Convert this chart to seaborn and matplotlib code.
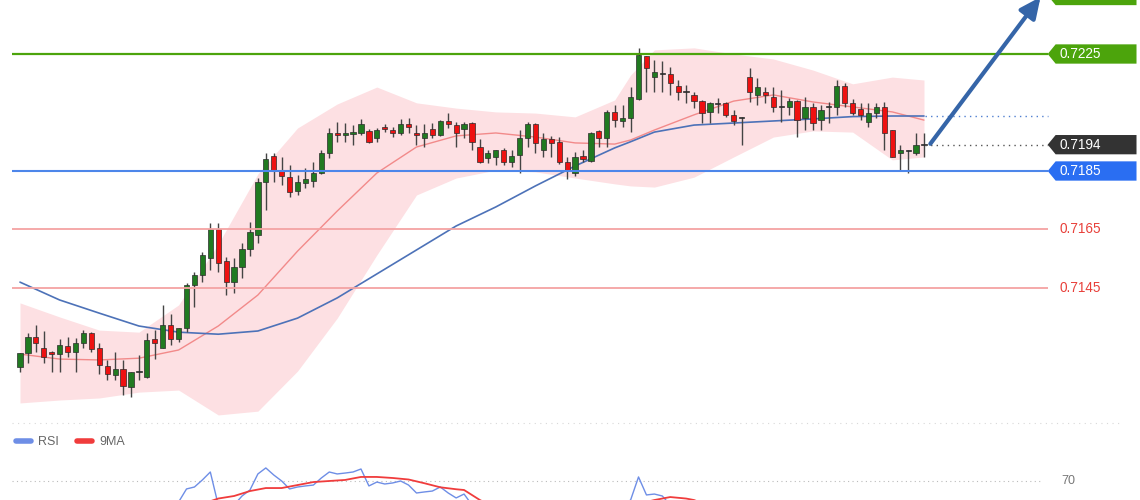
"""Candlestick snapshot with Bollinger band, two moving averages, key levels and an RSI strip."""

import matplotlib
matplotlib.use("Agg")
import matplotlib.pyplot as plt
from matplotlib.lines import Line2D
from matplotlib.patches import Polygon
import pandas as pd
import seaborn as sns


# candles, oldest first
OPEN = [0.71180, 0.71228, 0.71282, 0.71245, 0.71231, 0.71224, 0.71252, 0.71231, 0.71262, 0.71296,
        0.71245, 0.71183, 0.71152, 0.71173, 0.71111, 0.71163, 0.71145, 0.71275, 0.71245, 0.71323,
        0.71275, 0.71313, 0.71460, 0.71494, 0.71552, 0.71652, 0.71542, 0.71470, 0.71522, 0.71583,
        0.71631, 0.71812, 0.71901, 0.71850, 0.71829, 0.71782, 0.71809, 0.71816, 0.71843, 0.71912,
        0.71980, 0.71973, 0.71977, 0.71980, 0.71987, 0.71963, 0.72000, 0.71990, 0.71980, 0.72011,
        0.71980, 0.71963, 0.71994, 0.71973, 0.72021, 0.72007, 0.71994, 0.72014, 0.71932, 0.71894,
        0.71898, 0.71922, 0.71881, 0.71905, 0.71963, 0.72011, 0.71922, 0.71959, 0.71949, 0.71881,
        0.71843, 0.71901, 0.71884, 0.71987, 0.71963, 0.72052, 0.72021, 0.72031, 0.72096, 0.72243,
        0.72171, 0.72182, 0.72182, 0.72141, 0.72124, 0.72110, 0.72089, 0.72052, 0.72079, 0.72083,
        0.72042, 0.72031, 0.72171, 0.72110, 0.72120, 0.72103, 0.72069, 0.72069, 0.72089, 0.72031,
        0.72069, 0.72024, 0.72072, 0.72069, 0.72141, 0.72083, 0.72062, 0.72018, 0.72048, 0.72069,
        0.71990, 0.71912, 0.71922, 0.71912, 0.71939]
HIGH = [0.71228, 0.71296, 0.71323, 0.71303, 0.71235, 0.71275, 0.71282, 0.71279, 0.71306, 0.71299,
        0.71262, 0.71204, 0.71231, 0.71204, 0.71163, 0.71221, 0.71296, 0.71306, 0.71392, 0.71361,
        0.71313, 0.71467, 0.71505, 0.71573, 0.71672, 0.71672, 0.71556, 0.71552, 0.71604, 0.71676,
        0.71826, 0.71912, 0.71912, 0.71898, 0.71871, 0.71836, 0.71860, 0.71881, 0.71922, 0.71997,
        0.72018, 0.72014, 0.72007, 0.72028, 0.71994, 0.71997, 0.72011, 0.72000, 0.72028, 0.72031,
        0.72007, 0.72011, 0.72014, 0.72024, 0.72048, 0.72018, 0.72018, 0.72018, 0.71959, 0.71922,
        0.71922, 0.71929, 0.71922, 0.71990, 0.72018, 0.72014, 0.71980, 0.71970, 0.71966, 0.71898,
        0.71915, 0.71922, 0.71983, 0.71990, 0.72059, 0.72076, 0.72076, 0.72137, 0.72271, 0.72243,
        0.72230, 0.72226, 0.72206, 0.72161, 0.72144, 0.72120, 0.72093, 0.72086, 0.72100, 0.72086,
        0.72059, 0.72035, 0.72202, 0.72168, 0.72137, 0.72137, 0.72127, 0.72100, 0.72093, 0.72103,
        0.72083, 0.72076, 0.72086, 0.72161, 0.72151, 0.72096, 0.72083, 0.72083, 0.72083, 0.72086,
        0.71990, 0.71939, 0.71922, 0.71980, 0.71980]
LOW = [0.71163, 0.71193, 0.71231, 0.71193, 0.71163, 0.71163, 0.71214, 0.71163, 0.71245, 0.71231,
       0.71156, 0.71135, 0.71135, 0.71084, 0.71077, 0.71135, 0.71142, 0.71207, 0.71245, 0.71255,
       0.71265, 0.71299, 0.71385, 0.71470, 0.71511, 0.71505, 0.71426, 0.71433, 0.71484, 0.71559,
       0.71604, 0.71717, 0.71812, 0.71802, 0.71761, 0.71768, 0.71792, 0.71795, 0.71840, 0.71894,
       0.71949, 0.71949, 0.71939, 0.71973, 0.71946, 0.71949, 0.71983, 0.71966, 0.71973, 0.71980,
       0.71939, 0.71932, 0.71963, 0.71970, 0.71997, 0.71932, 0.71963, 0.71922, 0.71877, 0.71877,
       0.71871, 0.71871, 0.71864, 0.71843, 0.71932, 0.71912, 0.71898, 0.71898, 0.71874, 0.71823,
       0.71833, 0.71881, 0.71881, 0.71932, 0.71932, 0.72000, 0.72000, 0.71983, 0.72093, 0.72120,
       0.72120, 0.72120, 0.72110, 0.72093, 0.72083, 0.72065, 0.72014, 0.72014, 0.72048, 0.72035,
       0.72007, 0.71939, 0.72086, 0.72076, 0.72083, 0.72052, 0.72018, 0.72042, 0.71966, 0.71990,
       0.71990, 0.71990, 0.72014, 0.72042, 0.72069, 0.72042, 0.72024, 0.72000, 0.72031, 0.71922,
       0.71898, 0.71853, 0.71843, 0.71905, 0.71898]
CLOSE = [0.71228, 0.71282, 0.71262, 0.71214, 0.71224, 0.71255, 0.71231, 0.71262, 0.71296, 0.71241,
         0.71187, 0.71156, 0.71173, 0.71115, 0.71163, 0.71166, 0.71272, 0.71262, 0.71323, 0.71275,
         0.71313, 0.71460, 0.71494, 0.71563, 0.71652, 0.71535, 0.71470, 0.71522, 0.71583, 0.71641,
         0.71812, 0.71891, 0.71853, 0.71833, 0.71778, 0.71812, 0.71823, 0.71843, 0.71912, 0.71980,
         0.71973, 0.71980, 0.71983, 0.72011, 0.71949, 0.71990, 0.71994, 0.71980, 0.72011, 0.72000,
         0.71973, 0.71980, 0.71973, 0.72021, 0.72011, 0.71980, 0.72011, 0.71949, 0.71881, 0.71912,
         0.71922, 0.71881, 0.71901, 0.71963, 0.72011, 0.71946, 0.71959, 0.71946, 0.71881, 0.71853,
         0.71898, 0.71891, 0.71980, 0.71963, 0.72052, 0.72024, 0.72031, 0.72103, 0.72247, 0.72202,
         0.72189, 0.72185, 0.72151, 0.72120, 0.72120, 0.72089, 0.72048, 0.72083, 0.72083, 0.72042,
         0.72021, 0.72033, 0.72120, 0.72137, 0.72110, 0.72069, 0.72071, 0.72089, 0.72024, 0.72069,
         0.72014, 0.72059, 0.72070, 0.72141, 0.72083, 0.72048, 0.72042, 0.72048, 0.72069, 0.71980,
         0.71898, 0.71922, 0.71920, 0.71939, 0.71940]

# indicator readings at selected candles
IND_IDX = [0, 5, 10, 15, 20, 25, 30, 35, 40, 45, 50, 55, 60, 65, 70, 75, 77, 80, 85, 90, 95, 100, 105, 110, 114]
BB_UPPER = [0.71399, 0.71351, 0.71306, 0.71299, 0.71392, 0.71600, 0.71840, 0.71997, 0.72079, 0.72137,
            0.72083, 0.72065, 0.72052, 0.72048, 0.72035, 0.72093, 0.72178, 0.72264, 0.72271, 0.72250,
            0.72233, 0.72195, 0.72148, 0.72171, 0.72161]
BB_LOWER = [0.71057, 0.71067, 0.71074, 0.71094, 0.71101, 0.71016, 0.71029, 0.71166, 0.71347, 0.71563,
            0.71768, 0.71826, 0.71853, 0.71847, 0.71826, 0.71806, 0.71799, 0.71795, 0.71829, 0.71898,
            0.71966, 0.71987, 0.71983, 0.71888, 0.71898]
MA_FAST = [0.71224, 0.71207, 0.71204, 0.71210, 0.71238, 0.71320, 0.71426, 0.71576, 0.71713, 0.71843,
           0.71932, 0.71970, 0.71980, 0.71966, 0.71946, 0.71942, 0.71956, 0.71990, 0.72042, 0.72089,
           0.72110, 0.72086, 0.72069, 0.72052, 0.72024]
MA_SLOW = [0.71470, 0.71409, 0.71364, 0.71320, 0.71299, 0.71292, 0.71303, 0.71347, 0.71416, 0.71498,
           0.71580, 0.71662, 0.71727, 0.71799, 0.71867, 0.71929, 0.71950, 0.71983, 0.72007, 0.72014,
           0.72021, 0.72028, 0.72036, 0.72038, 0.72038]

# RSI strip (only the part above ~57 is in view)
RSI_IDX = list(range(19, 59)) + list(range(75, 84))
RSI_VAL = [52, 56, 64.7, 66, 70.7, 76, 54, 50, 54, 60, 64, 74.7, 78.7, 74, 70, 64.7, 66, 66.7, 67.3, 72,
           76, 74.7, 75.3, 76, 78, 66.7, 69.3, 68, 68.7, 70, 67.3, 62, 62.7, 63.3, 66, 62, 58.7, 61.3, 54, 45,
           50, 54, 57.3, 72.7, 60.7, 61.3, 60, 54, 48]
MA9_IDX = [22, 24, 25, 27, 29, 31, 33, 35, 37, 39, 41, 43, 45, 47, 49, 51, 53, 55, 56, 58, 60,
           77, 79, 80, 82, 84, 85, 87]
MA9_VAL = [50, 56.5, 58.3, 60, 63.3, 65.3, 65.3, 67.3, 69.3, 70, 70.7, 72.7, 72.7, 72, 71, 68.5, 65.8, 64.5, 64, 57.3, 52,
           52, 56, 57.3, 59.3, 58.3, 57.3, 53]

RESISTANCE = 0.7225
SUPPORT = 0.7185
TARGET = 0.7245
LOWER_LEVELS = [0.7165, 0.7145]

GREEN = "#4ca40c"
BLUE_TAG = "#2a6ef2"
RED_TXT = "#e8403a"


def price_tag(ax, level, text, color):
    h = 0.00033
    x0, x1, x2 = 129.6, 130.6, 140.8
    ax.add_patch(Polygon([(x0, level), (x1, level + h), (x2, level + h), (x2, level - h), (x1, level - h)],
                         closed=True, facecolor=color, edgecolor="none", zorder=8))
    if text:
        ax.text(131.1, level, text, color="white", va="center", ha="left", fontsize=9.8, zorder=9)


def main() -> None:
    sns.set_style("white")
    plt.rcParams["font.family"] = ["Liberation Sans", "DejaVu Sans"]

    candles = pd.DataFrame({"open": OPEN, "high": HIGH, "low": LOW, "close": CLOSE})
    candles["idx"] = range(len(candles))
    diff = candles["close"] - candles["open"]
    candles["bottom"] = candles[["open", "close"]].min(axis=1)
    candles["height"] = diff.abs().clip(lower=0.00002)
    candles["color"] = ["#333333" if abs(d) < 0.00005 else ("#217a21" if d > 0 else "#ee1111") for d in diff]

    fig = plt.figure(figsize=(11.4, 5), dpi=100)
    ax = fig.add_axes([0, 0.15, 1, 0.85])
    rsi_ax = fig.add_axes([0, 0, 1, 0.15])
    for a in (ax, rsi_ax):
        a.set_xlim(-2.522, 141.24)
        a.axis("off")
    ax.set_ylim(0.709816, 0.724346)
    rsi_ax.set_ylim(57.33, 107.33)

    # Bollinger band and moving averages
    ax.fill_between(IND_IDX, BB_LOWER, BB_UPPER, color="#fde0e3", lw=0, zorder=1)
    sns.lineplot(x=IND_IDX, y=MA_FAST, ax=ax, color="#f28a8a", linewidth=1.0, zorder=2)
    sns.lineplot(x=IND_IDX, y=MA_SLOW, ax=ax, color="#4d72b8", linewidth=1.2, zorder=2)

    # candles
    ax.vlines(candles["idx"], candles["low"], candles["high"], color="#444444", lw=1.0, zorder=3)
    ax.bar(candles["idx"], candles["height"], bottom=candles["bottom"], width=0.66,
           color=candles["color"], edgecolor="#2b2b2b", linewidth=0.5, zorder=4)

    # key levels
    ax.hlines(RESISTANCE, -1.0, 129.6, color=GREEN, lw=1.6, zorder=5)
    ax.hlines(SUPPORT, -1.0, 129.6, color="#4d86ea", lw=1.5, zorder=5)
    for lvl in LOWER_LEVELS:
        ax.hlines(lvl, -1.0, 129.6, color="#f4a3a3", lw=1.3, zorder=5)
        ax.text(131.1, lvl, f"{lvl:.4f}", color=RED_TXT, va="center", ha="left", fontsize=9.8)
    last = len(candles) - 1
    ax.hlines(MA_SLOW[-1], last + 0.1, 129.6, color="#4f7fd0", lw=1.0, linestyles=(0, (1, 3)), zorder=5)
    ax.hlines(CLOSE[-1], last + 0.1, 129.6, color="#555555", lw=1.0, linestyles=(0, (1, 3)), zorder=5)
    ax.hlines(0.709885, -1.0, 139.0, color="#d8d8d8", lw=0.8, linestyles=(0, (1, 4)), zorder=1)

    # target tag sits mostly above the frame, only its lower edge shows
    price_tag(ax, TARGET, "", GREEN)
    price_tag(ax, RESISTANCE, f"{RESISTANCE:.4f}", GREEN)
    price_tag(ax, CLOSE[-1], f"{CLOSE[-1]:.4f}", "#333333")
    price_tag(ax, SUPPORT, f"{SUPPORT:.4f}", BLUE_TAG)

    ax.annotate("", xy=(128.7, TARGET - 0.00005), xytext=(last + 0.8, CLOSE[-1] + 0.00003),
                arrowprops=dict(arrowstyle="-|>,head_length=0.9,head_width=0.42", mutation_scale=14,
                                lw=3, color="#3565a8", shrinkA=0, shrinkB=0),
                annotation_clip=False, zorder=7)

    # RSI strip
    rsi_ax.hlines(70, -1.0, 129.0, color="#bbbbbb", lw=0.8, linestyles=(0, (1, 3)))
    sns.lineplot(x=RSI_IDX, y=RSI_VAL, ax=rsi_ax, color="#6e8ee6", linewidth=1.0)
    sns.lineplot(x=MA9_IDX, y=MA9_VAL, ax=rsi_ax, color="#f03c3c", linewidth=1.3)
    rsi_ax.text(131.3, 70, "70", color="#777777", va="center", ha="left", fontsize=9)

    handles = [Line2D([], [], color="#6e8ee6", lw=4), Line2D([], [], color="#f03c3c", lw=4)]
    fig.legend(handles, ["RSI", "9MA"], loc="center left", bbox_to_anchor=(0.014, 0.116), ncol=2,
               frameon=False, fontsize=9, handlelength=1.2, handletextpad=0.6, columnspacing=1.4,
               borderpad=0, borderaxespad=0, labelcolor="#666666")

    fig.savefig("out.png", dpi=100)
    plt.close(fig)


if __name__ == "__main__":
    main()
